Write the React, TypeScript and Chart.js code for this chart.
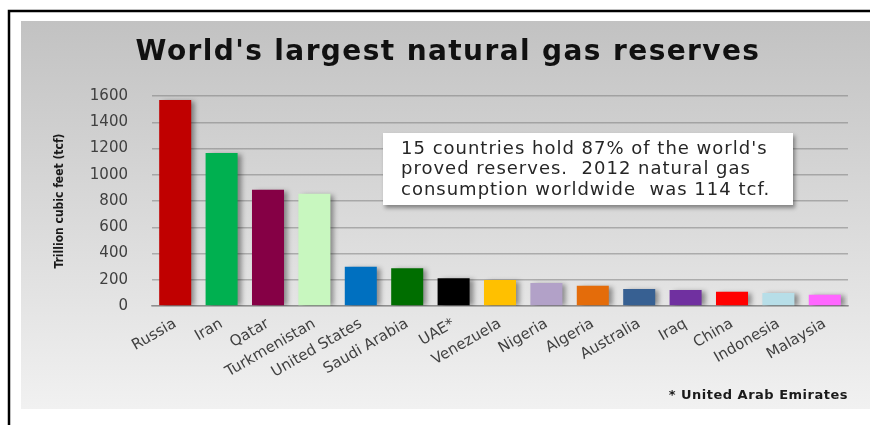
import React, { useEffect, useRef } from "react";
import { Chart, registerables } from "chart.js";

Chart.register(...registerables);

const countries = [
  "Russia", "Iran", "Qatar", "Turkmenistan", "United States", "Saudi Arabia", "UAE*",
  "Venezuela", "Nigeria", "Algeria", "Australia", "Iraq", "China", "Indonesia", "Malaysia",
];
const reserves = [1570, 1165, 885, 855, 300, 288, 212, 198, 175, 155, 130, 122, 108, 100, 85];
const barColors = [
  "#c00000", "#00b050", "#850045", "#c8f7bf", "#0070c0", "#006e00", "#000000",
  "#ffc000", "#b2a1c8", "#e46c0a", "#376092", "#7030a0", "#ff0000", "#b7dee8", "#ff66ff",
];
const titleText = "World's largest natural gas reserves";
const yAxisTitle = "Trillion cubic feet (tcf)";
const noteLines = [
  "15 countries hold 87% of the world's",
  "proved reserves.  2012 natural gas",
  "consumption worldwide  was 114 tcf.",
];
const footnote = "* United Arab Emirates";

const backgroundPlugin = {
  id: "panelBackground",
  beforeDraw(chart: any) {
    const ctx = chart.ctx;
    const w = chart.width;
    const h = chart.height;
    ctx.save();
    ctx.fillStyle = "#ffffff";
    ctx.fillRect(0, 0, w, h);
    const g = ctx.createLinearGradient(0, 21, 0, 409);
    g.addColorStop(0, "#c2c2c2");
    g.addColorStop(1, "#f1f1f1");
    ctx.fillStyle = g;
    ctx.fillRect(21, 21, w - 21, 388);
    ctx.strokeStyle = "#000000";
    ctx.lineWidth = 2.5;
    ctx.beginPath();
    ctx.moveTo(w, 11);
    ctx.lineTo(9, 11);
    ctx.lineTo(9, h);
    ctx.stroke();

    ctx.fillStyle = "#111111";
    ctx.font = "bold 28px 'DejaVu Sans', sans-serif";
    ctx.letterSpacing = "1.4px";
    ctx.textAlign = "center";
    ctx.textBaseline = "alphabetic";
    ctx.fillText(titleText, 448, 60);
    ctx.restore();
  },
};

const shadowPlugin = {
  id: "barShadow",
  beforeDatasetsDraw(chart: any) {
    const ctx = chart.ctx;
    ctx.save();
    ctx.shadowColor = "rgba(0,0,0,0.4)";
    ctx.shadowBlur = 5;
    ctx.shadowOffsetX = 4;
    ctx.shadowOffsetY = 1;
  },
  afterDatasetsDraw(chart: any) {
    chart.ctx.restore();
  },
};

const notePlugin = {
  id: "noteBox",
  afterDraw(chart: any) {
    const ctx = chart.ctx;
    ctx.save();
    ctx.shadowColor = "rgba(0,0,0,0.4)";
    ctx.shadowBlur = 4;
    ctx.shadowOffsetX = 2;
    ctx.shadowOffsetY = 3;
    ctx.fillStyle = "#ffffff";
    ctx.fillRect(383, 133, 410, 72);
    ctx.restore();

    ctx.save();
    ctx.fillStyle = "#262626";
    ctx.font = "18px 'DejaVu Sans', sans-serif";
    ctx.letterSpacing = "1px";
    ctx.textBaseline = "middle";
    ctx.textAlign = "left";
    noteLines.forEach((line, i) => {
      ctx.fillText(line, 401, 149 + i * 20.5);
    });
    ctx.font = "bold 13px 'DejaVu Sans', sans-serif";
    ctx.letterSpacing = "0.5px";
    ctx.textAlign = "right";
    ctx.fillStyle = "#1a1a1a";
    ctx.fillText(footnote, 848, 396);
    ctx.restore();
  },
};

export default function App() {
  const canvasRef = useRef<HTMLCanvasElement | null>(null);

  useEffect(() => {
    if (!canvasRef.current) return;
    const chart = new Chart(canvasRef.current, {
      type: "bar",
      data: {
        labels: countries,
        datasets: [
          {
            data: reserves,
            backgroundColor: barColors,
            borderWidth: 0,
            barPercentage: 0.69,
            categoryPercentage: 1,
          },
        ],
      },
      options: {
        animation: false,
        responsive: true,
        maintainAspectRatio: false,
        layout: { padding: { top: 96, left: 21, right: 22, bottom: 16 } },
        plugins: {
          legend: { display: false },
          tooltip: { enabled: false },
          title: { display: false },
        },
        scales: {
          x: {
            grid: { display: false },
            border: { display: true, color: "rgba(120,120,120,0.6)", width: 1.5 },
            ticks: {
              autoSkip: false,
              minRotation: 30,
              maxRotation: 30,
              padding: 1,
              color: "#404040",
              font: { family: "'DejaVu Sans', sans-serif", size: 15 },
            },
            afterFit(scale: any) {
              scale.height = 103;
            },
          },
          y: {
            min: 0,
            max: 1600,
            ticks: {
              stepSize: 200,
              padding: 24,
              color: "#404040",
              font: { family: "'DejaVu Sans', sans-serif", size: 15 },
              callback: (v: any) => String(v),
            },
            grid: { color: "rgba(120,120,120,0.5)", lineWidth: 1.5, drawTicks: false },
            border: { display: false },
            title: {
              display: true,
              text: yAxisTitle,
              color: "#1a1a1a",
              font: { family: "'Liberation Sans Narrow', 'DejaVu Sans Condensed', sans-serif", size: 12, weight: "bold", lineHeight: 1.2 },
              padding: { top: 32, bottom: 0 },
            },
            afterFit(scale: any) {
              scale.width = 131;
            },
          },
        },
      },
      plugins: [backgroundPlugin, shadowPlugin, notePlugin],
    });
    return () => chart.destroy();
  }, []);

  return (
    <div style={{ position: "fixed", left: 0, top: 0, width: 870, height: 425 }}>
      <canvas ref={canvasRef} />
    </div>
  );
}
